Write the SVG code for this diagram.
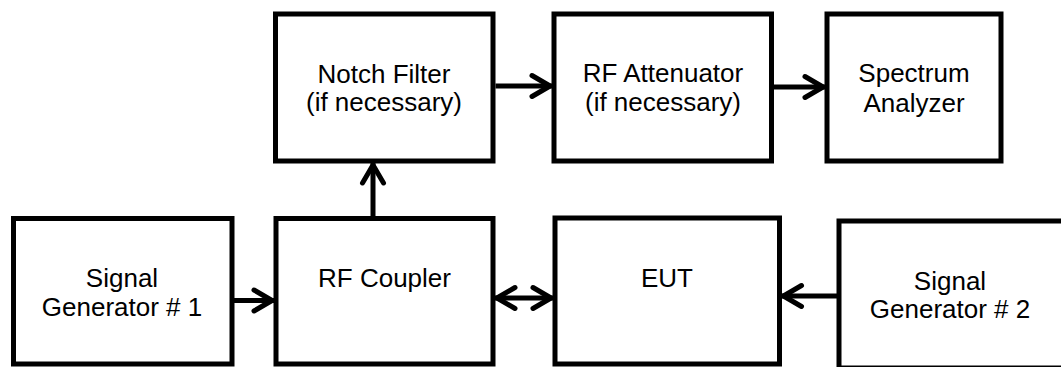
<svg xmlns="http://www.w3.org/2000/svg" width="1061" height="367" viewBox="0 0 1061 367">
  <style>
    .box { fill: #fff; stroke: #000; stroke-width: 5; }
    .lbl { font-family: "Liberation Sans", Arial, sans-serif; font-size: 26px; fill: #000; text-anchor: middle; }
    .wire { fill: none; stroke: #000; stroke-width: 5; }
  </style>
  <defs>
    <!-- open chevron arrowhead, tip at the line end -->
    <marker id="head" markerUnits="userSpaceOnUse" viewBox="-25 -15 30 30" markerWidth="30" markerHeight="30" refX="0" refY="0" orient="auto-start-reverse" overflow="visible">
      <path d="M-20,-10.5 L-2,0 L-20,10.5" fill="none" stroke="#000" stroke-width="5" stroke-linecap="round" stroke-linejoin="round"/>
    </marker>
  </defs>

  <rect width="1061" height="367" fill="#fff"/>

  <g id="notch-filter">
    <rect class="box" x="275.5" y="14" width="217.5" height="147"/>
    <text class="lbl" x="384" y="83">Notch Filter</text>
    <text class="lbl" x="384" y="111">(if necessary)</text>
  </g>

  <g id="rf-attenuator">
    <rect class="box" x="554" y="14" width="217.5" height="147"/>
    <text class="lbl" x="663" y="82">RF Attenuator</text>
    <text class="lbl" x="663" y="111">(if necessary)</text>
  </g>

  <g id="spectrum-analyzer">
    <rect class="box" x="827" y="14" width="174" height="147"/>
    <text class="lbl" x="914" y="82">Spectrum</text>
    <text class="lbl" x="914" y="111.5">Analyzer</text>
  </g>

  <g id="signal-generator-1">
    <rect class="box" x="13.5" y="218.5" width="218.5" height="145.5"/>
    <text class="lbl" x="122" y="287">Signal</text>
    <text class="lbl" x="122" y="316">Generator # 1</text>
  </g>

  <g id="rf-coupler">
    <rect class="box" x="276" y="218.5" width="217" height="145.5"/>
    <text class="lbl" x="384.5" y="287">RF Coupler</text>
  </g>

  <g id="eut">
    <rect class="box" x="555" y="218" width="224.5" height="146"/>
    <text class="lbl" x="667" y="287">EUT</text>
  </g>

  <g id="signal-generator-2">
    <rect class="box" x="839" y="221" width="228" height="147"/>
    <text class="lbl" x="950" y="290">Signal</text>
    <text class="lbl" x="950" y="318">Generator # 2</text>
  </g>

  <g id="connectors">
    <line class="wire" x1="234" y1="300.5" x2="274" y2="300.5" marker-end="url(#head)"/>
    <line class="wire" x1="495" y1="298" x2="553" y2="298" marker-start="url(#head)" marker-end="url(#head)"/>
    <line class="wire" x1="837" y1="296" x2="781.5" y2="296" marker-end="url(#head)"/>
    <line class="wire" x1="373" y1="216" x2="373" y2="163" marker-end="url(#head)"/>
    <line class="wire" x1="495.5" y1="86" x2="552" y2="86" marker-end="url(#head)"/>
    <line class="wire" x1="774" y1="87" x2="825" y2="87" marker-end="url(#head)"/>
  </g>
</svg>
